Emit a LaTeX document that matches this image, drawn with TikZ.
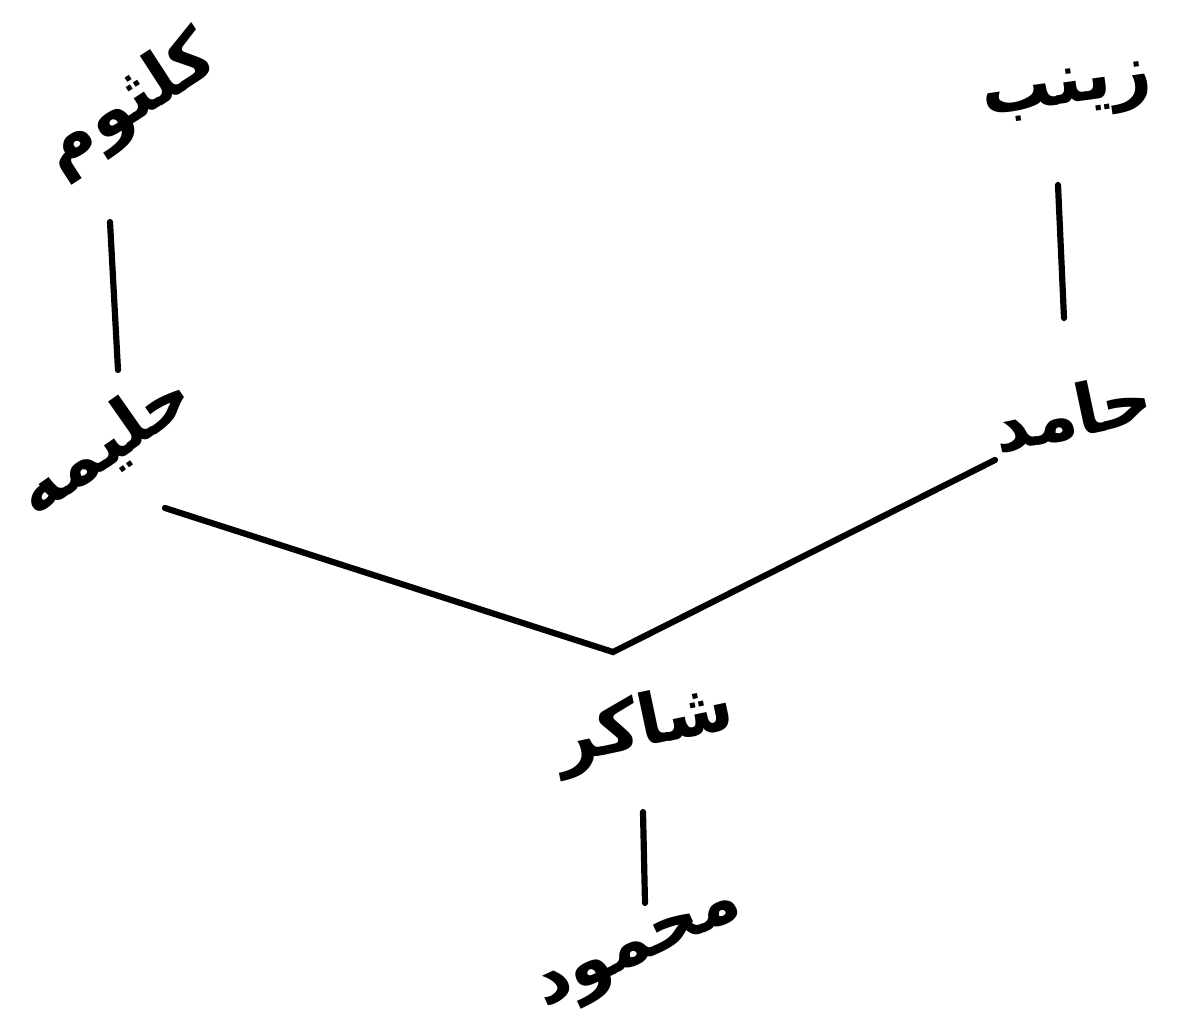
\documentclass[tikz,border=0pt]{standalone}
\usepackage{fontspec}
\newfontfamily\urdufont[Script=Arabic]{DejaVu Sans}
\TeXXeTstate=1
\usetikzlibrary{positioning,calc}
\tikzset{
  % family member name
  person/.style={font=\urdufont\bfseries\fontsize{50}{56}\selectfont, inner sep=1pt, rotate=#1},
  person/.default={0},
  % line of descent
  tie/.style={line width=4.4pt, line cap=round},
}

\begin{document}
\begin{tikzpicture}[x=0.025cm, y=-0.025cm]
  \useasboundingbox (0,0) rectangle (1178,1021);

  % left branch
  \node[person=33] (kulsoom) at (130,105) {\beginR کلثوم\endR};
  \node[person=35] (halima) at (105,445) {\beginR حلیمه\endR};
  \draw[tie] ($(kulsoom)+(-20,117)$) -- ($(halima)+(13,-75)$);

  % right branch
  \node[person=8] (zainab) at (1068,95) {\beginR زینب\endR};
  \node[person=12] (hamid) at (1072,412) {\beginR حامد\endR};
  \draw[tie] ($(zainab)+(-10,90)$) -- ($(hamid)+(-8,-94)$);

  % joined at shakir
  \coordinate (meet) at (613,652);
  \draw[tie] ($(halima)+(60,63)$) -- (meet) -- ($(hamid)+(-77,48)$);

  \node[person=12] (shakir) at (645,728) {\beginR شاکر\endR};
  \node[person=25] (mahmood) at (642,955) {\beginR محمود\endR};
  \draw[tie] ($(shakir)+(-2,84)$) -- ($(mahmood)+(3,-52)$);
\end{tikzpicture}
\end{document}
